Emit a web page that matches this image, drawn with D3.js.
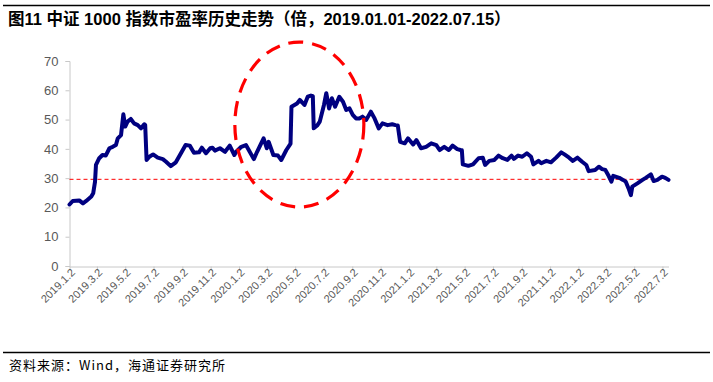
<!DOCTYPE html>
<html><head><meta charset="utf-8">
<script src="https://cdn.jsdelivr.net/npm/d3@7"></script>
<style>
html,body{margin:0;padding:0;background:#fff;}
svg{display:block;}
</style></head>
<body>
<svg id="chart" width="713" height="382"></svg>
<script>
const titleText = "图11 中证 1000 指数市盈率历史走势（倍，2019.01.01-2022.07.15）";
const sourceText = "资料来源：Wind，海通证券研究所";

const dates = ["2019-01-02","2019-01-09","2019-01-23","2019-01-31","2019-02-07","2019-02-18","2019-02-22","2019-02-26","2019-02-28","2019-03-07","2019-03-14","2019-03-21","2019-03-29","2019-04-05","2019-04-12","2019-04-16","2019-04-23","2019-04-28","2019-05-02","2019-05-07","2019-05-14","2019-05-21","2019-05-29","2019-06-05","2019-06-12","2019-06-14","2019-06-17","2019-06-23","2019-07-01","2019-07-11","2019-07-22","2019-07-29","2019-08-08","2019-08-19","2019-08-30","2019-09-09","2019-09-18","2019-09-27","2019-10-08","2019-10-14","2019-10-23","2019-11-01","2019-11-06","2019-11-11","2019-11-22","2019-12-03","2019-12-13","2019-12-23","2019-12-27","2020-01-07","2020-01-17","2020-02-03","2020-02-10","2020-02-24","2020-03-02","2020-03-06","2020-03-16","2020-03-26","2020-04-02","2020-04-13","2020-04-20","2020-04-22","2020-04-24","2020-05-06","2020-05-12","2020-05-22","2020-05-29","2020-06-05","2020-06-09","2020-06-11","2020-06-19","2020-06-24","2020-07-03","2020-07-08","2020-07-14","2020-07-20","2020-07-27","2020-08-05","2020-08-13","2020-08-20","2020-08-27","2020-09-03","2020-09-10","2020-09-17","2020-09-24","2020-10-02","2020-10-12","2020-10-20","2020-10-29","2020-11-06","2020-11-17","2020-11-27","2020-12-04","2020-12-09","2020-12-14","2020-12-24","2020-12-31","2021-01-11","2021-01-18","2021-01-28","2021-02-08","2021-02-19","2021-03-02","2021-03-09","2021-03-19","2021-03-29","2021-04-06","2021-04-16","2021-04-23","2021-04-26","2021-04-28","2021-05-10","2021-05-20","2021-06-01","2021-06-10","2021-06-15","2021-06-24","2021-07-05","2021-07-14","2021-07-23","2021-08-02","2021-08-11","2021-08-16","2021-08-25","2021-09-03","2021-09-13","2021-09-22","2021-09-27","2021-10-08","2021-10-14","2021-10-25","2021-11-04","2021-11-15","2021-11-26","2021-12-03","2021-12-13","2021-12-21","2021-12-31","2022-01-10","2022-01-19","2022-01-24","2022-02-07","2022-02-15","2022-02-22","2022-03-01","2022-03-08","2022-03-14","2022-03-18","2022-03-31","2022-04-08","2022-04-14","2022-04-20","2022-04-25","2022-04-28","2022-05-09","2022-05-20","2022-05-27","2022-06-07","2022-06-13","2022-06-21","2022-07-01","2022-07-08","2022-07-15"];

const peValues = [21.0,22.2,22.4,21.4,22.2,23.7,24.8,28.8,34.5,36.8,37.9,37.7,40.2,40.7,41.3,43.6,44.7,51.8,47.6,49.3,50.2,48.7,48.1,47.0,48.4,48.2,36.2,37.3,38.1,37.0,36.5,35.6,34.1,35.4,38.5,41.3,41.1,38.7,38.8,40.4,38.5,40.2,40.4,39.4,40.2,39.0,41.1,37.9,39.0,40.7,41.3,36.5,39.0,43.6,40.2,42.4,37.9,37.7,36.2,39.6,41.3,41.8,54.4,55.5,56.7,55.0,57.8,58.2,58.0,47.0,48.1,49.3,55.0,59.0,53.8,57.3,54.4,57.8,56.1,53.3,53.8,51.6,50.4,50.4,51.0,49.9,52.7,50.4,47.0,48.7,48.1,48.4,48.1,48.0,42.4,41.9,43.6,41.5,43.0,40.2,40.7,41.9,41.3,39.6,40.7,39.6,41.1,39.9,39.6,39.5,34.7,34.2,34.7,36.8,37.0,34.5,35.9,36.2,37.7,36.8,36.2,37.7,36.6,37.7,37.3,38.5,37.3,34.7,35.9,35.1,35.9,35.4,37.0,38.8,38.1,37.0,35.9,37.0,35.6,34.5,32.4,32.8,33.9,33.1,32.8,30.8,28.8,30.8,30.1,29.4,28.8,26.5,24.2,27.1,28.2,29.4,30.1,31.3,29.0,29.4,30.5,30.1,29.4];

const referenceValue = [29.6];
const yTicks = [0,10,20,30,40,50,60,70];
const xTickLabels = ["2019.1.2","2019.3.2","2019.5.2","2019.7.2","2019.9.2","2019.11.2","2020.1.2","2020.3.2","2020.5.2","2020.7.2","2020.9.2","2020.11.2","2021.1.2","2021.3.2","2021.5.2","2021.7.2","2021.9.2","2021.11.2","2022.1.2","2022.3.2","2022.5.2","2022.7.2"];
// highlighted period (ellipse annotation): center date / value
const highlightCenter = ["2020-05-11", 48.3];

const parseDate = d3.timeParse("%Y-%m-%d");
const parseTick = d3.timeParse("%Y.%m.%d");
const data = dates.map((d,i)=>({date: parseDate(d), value: peValues[i]}));
const tickDates = xTickLabels.map(parseTick);

const svg = d3.select("#chart");

// frame lines
svg.append("line").attr("x1",3).attr("x2",710).attr("y1",5.5).attr("y2",5.5)
  .attr("stroke","#000").attr("stroke-width",1.3);
svg.append("line").attr("x1",3).attr("x2",710).attr("y1",352.5).attr("y2",352.5)
  .attr("stroke","#000").attr("stroke-width",1.3);

svg.append("text").attr("x",8).attr("y",25)
  .attr("font-family","'Liberation Sans', Arial, 'Noto Sans CJK SC', sans-serif")
  .attr("font-weight","bold").attr("font-size",16.5).attr("fill","#000")
  .text(titleText);

svg.append("text").attr("x",9).attr("y",369.5)
  .attr("font-family","'Noto Sans CJK SC', sans-serif")
  .attr("font-size",13).attr("letter-spacing",1).attr("fill","#000")
  .text(sourceText);

const x = d3.scaleTime()
  .domain([parseDate("2019-01-02"), parseDate("2022-07-15")])
  .range([69.5, 668.5]);
const y = d3.scaleLinear().domain([0,70]).range([266, 61]);

const axisColor = "#c8c8c8";
const labelColor = "#595959";

// Y axis
const gy = svg.append("g").attr("transform","translate(69.5,0)")
  .call(d3.axisLeft(y).tickValues(yTicks).tickSize(4).tickPadding(7).tickFormat(d3.format("d")));
gy.select(".domain").attr("stroke",axisColor);
gy.selectAll(".tick line").attr("stroke",axisColor);
gy.selectAll(".tick text").attr("fill",labelColor)
  .attr("font-family","'Liberation Sans', Arial, sans-serif").attr("font-size",13);

// X axis
const gx = svg.append("g").attr("transform","translate(0,266.5)")
  .call(d3.axisBottom(x).tickValues(tickDates).tickSize(4).tickSizeOuter(0)
    .tickFormat((d,i)=>xTickLabels[i]));
gx.select(".domain").attr("stroke",axisColor);
gx.selectAll(".tick line").attr("stroke",axisColor);
gx.selectAll(".tick text").attr("fill",labelColor)
  .attr("font-family","'Liberation Sans', Arial, sans-serif").attr("font-size",11)
  .attr("text-anchor","end")
  .attr("transform","translate(3,4) rotate(-45)")
  .attr("dy","0.35em").attr("y",0).attr("x",0);

// reference dashed line
svg.append("line")
  .attr("x1",x.range()[0]).attr("x2",x.range()[1])
  .attr("y1",y(referenceValue[0])).attr("y2",y(referenceValue[0]))
  .attr("stroke","#ff0000").attr("stroke-width",1).attr("stroke-dasharray","4,3");

// PE line
const line = d3.line().x(d=>x(d.date)).y(d=>y(d.value));
svg.append("path").datum(data)
  .attr("d",line).attr("fill","none")
  .attr("stroke","#000080").attr("stroke-width",4)
  .attr("stroke-linejoin","round").attr("stroke-linecap","round");

// ellipse annotation
svg.append("ellipse")
  .attr("cx",x(parseDate(highlightCenter[0]))).attr("cy",y(highlightCenter[1]))
  .attr("rx",64.5).attr("ry",82.5)
  .attr("fill","none").attr("stroke","#ff0000").attr("stroke-width",3.2)
  .attr("stroke-dasharray","15,9");
</script>
</body></html>
